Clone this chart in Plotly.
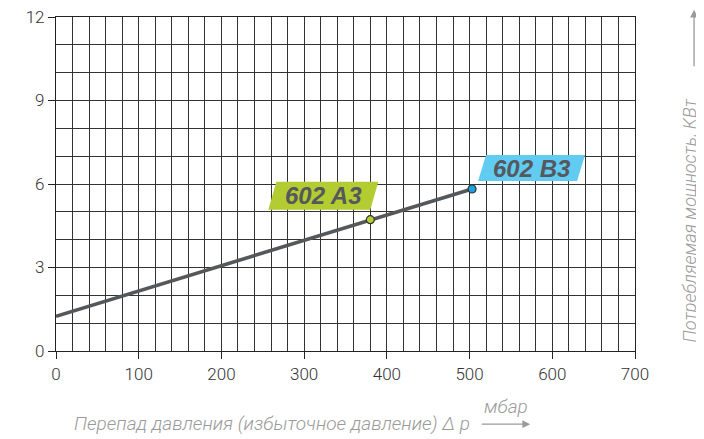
import plotly.graph_objects as go

# Data
line_x = [0, 503]
line_y = [1.25, 5.82]
point_names = ["602 A3", "602 B3"]
point_x = [380, 503]
point_y = [4.72, 5.82]
x_ticks = [0, 100, 200, 300, 400, 500, 600, 700]
y_ticks = [0, 3, 6, 9, 12]

point_colors = ["#b3cc32", "#1aa3e0"]
tag_colors = ["#b3cc32", "#62cbf2"]
tag_paths = ["M -102,10 L 0,10 L 8,38 L -94,38 Z", "M 6,8 L 105,8 L 113,34 L 14,34 Z"]
tag_shift = [(-47, 24), (60, 21)]

fig = go.Figure()
fig.add_trace(go.Scatter(x=line_x, y=line_y, mode="lines",
                         line=dict(color="#55585a", width=3.5), hoverinfo="skip"))
fig.add_trace(go.Scatter(x=point_x, y=point_y, mode="markers",
                         marker=dict(color=point_colors, size=8, line=dict(color="#333", width=1.2))))

for i, name in enumerate(point_names):
    fig.add_shape(type="path", xref="x", yref="y", xsizemode="pixel", ysizemode="pixel",
                  xanchor=point_x[i], yanchor=point_y[i], path=tag_paths[i],
                  fillcolor=tag_colors[i], line=dict(width=0), layer="above")
    fig.add_annotation(x=point_x[i], y=point_y[i], xref="x", yref="y", text="<b><i>%s</i></b>" % name,
                       showarrow=False, xshift=tag_shift[i][0], yshift=tag_shift[i][1],
                       font=dict(family="Liberation Sans", size=24, color="#55585c"))

tick_font = dict(family="Roboto", size=17, color="#333", weight=300)
title_font = dict(family="Roboto", size=19, color="#9a9a9a", style="italic", weight=300)
ytitle_font = dict(family="Roboto", size=18, color="#9a9a9a", style="italic", weight=300)

fig.add_annotation(xref="paper", yref="paper", x=0.718, y=-0.216, xanchor="right", yanchor="middle",
                   text="Перепад давления (избыточное давление) Δ p", showarrow=False, font=title_font)
fig.add_annotation(xref="paper", yref="paper", x=0.778, y=-0.165, xanchor="center", yanchor="middle",
                   text="мбар", showarrow=False, font=title_font)
fig.add_annotation(xref="paper", yref="paper", x=0.819, y=-0.219, ax=-50, ay=0, text="",
                   showarrow=True, arrowhead=2, arrowsize=1.2, arrowwidth=1.3, arrowcolor="#9a9a9a")
fig.add_annotation(xref="paper", yref="paper", x=1.094, y=0.392, textangle=-90,
                   xanchor="center", yanchor="middle",
                   text="Потребляемая мощность, КВт", showarrow=False, font=ytitle_font)
fig.add_annotation(xref="paper", yref="paper", x=1.102, y=1.022, ax=0, ay=58, text="",
                   showarrow=True, arrowhead=2, arrowsize=1.2, arrowwidth=1.3, arrowcolor="#9a9a9a")

fig.update_layout(
    width=696, height=431,
    margin=dict(l=48, r=69, t=9, b=88, autoexpand=False),
    paper_bgcolor="white", plot_bgcolor="white",
    showlegend=False,
    xaxis=dict(range=[0, 700], tickvals=x_ticks, ticks="outside", ticklen=7, tickcolor="#222",
               showgrid=True, gridcolor="#333", gridwidth=1, automargin=False, ticklabeloverflow="allow",
               minor=dict(dtick=20, showgrid=True, gridcolor="#333", gridwidth=1),
               showline=True, linecolor="#222", linewidth=1.2, mirror=True, zeroline=False,
               tickfont=tick_font, fixedrange=True),
    yaxis=dict(range=[0, 12], tickvals=y_ticks, ticks="outside", ticklen=7, tickcolor="#222",
               showgrid=True, gridcolor="#333", gridwidth=1, automargin=False, ticklabeloverflow="allow",
               minor=dict(dtick=1, showgrid=True, gridcolor="#333", gridwidth=1),
               showline=True, linecolor="#222", linewidth=1.2, mirror=True, zeroline=False,
               tickfont=tick_font, fixedrange=True),
)

fig.write_html("out.html")
